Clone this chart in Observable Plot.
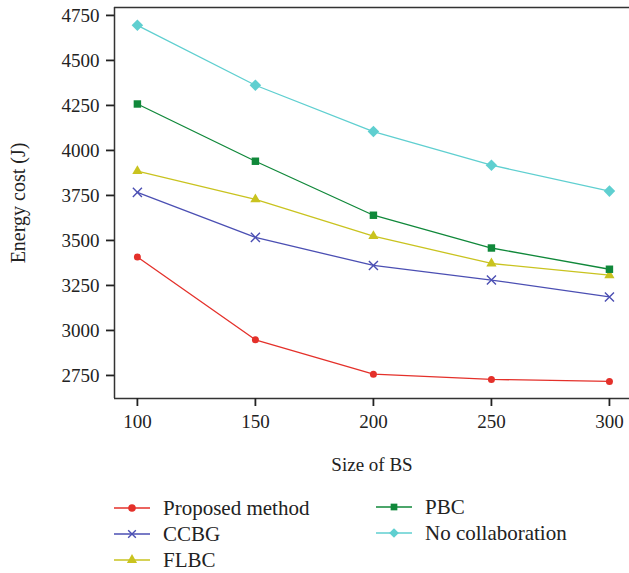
<!DOCTYPE html>
<html>
<head>
<meta charset="utf-8">
<script src="https://cdn.jsdelivr.net/npm/d3@7"></script>
<script src="https://cdn.jsdelivr.net/npm/@observablehq/plot@0.6"></script>
<style>
  html, body { margin: 0; padding: 0; background: #fff; overflow: hidden; }
  #wrap { position: relative; width: 629px; height: 573px; font-family: "Liberation Serif", "DejaVu Serif", serif; }
  #legend { position: absolute; left: 0; top: 0; width: 629px; height: 573px; pointer-events: none; }
  .item { position: absolute; display: flex; align-items: center; font-size: 21px; color: #222; height: 26px; white-space: nowrap; }
  .item svg { margin-right: 13px; }
</style>
</head>
<body>
<div id="wrap"><div id="chart"></div><div id="legend"></div></div>
<script>
const sizes = [100, 150, 200, 250, 300];
const proposed = [3408, 2948, 2757, 2728, 2717];
const ccbg = [3767, 3517, 3361, 3280, 3186];
const flbc = [3885, 3728, 3524, 3372, 3307];
const pbc = [4258, 3940, 3640, 3458, 3340];
const noCollab = [4695, 4362, 4105, 3918, 3774];
const yTicks = [2750, 3000, 3250, 3500, 3750, 4000, 4250, 4500, 4750];

const series = [
  {name: "Proposed method", values: proposed, color: "#e4302a", symbol: "circle", stroke: false},
  {name: "CCBG", values: ccbg, color: "#4b4fb3", symbol: "times", stroke: true},
  {name: "FLBC", values: flbc, color: "#c9c31f", symbol: "triangle", stroke: false},
  {name: "PBC", values: pbc, color: "#10883a", symbol: "square", stroke: false},
  {name: "No collaboration", values: noCollab, color: "#5fcfd0", symbol: "diamond2", stroke: false}
];

const data = series.flatMap(s => s.values.map((v, i) => ({series: s.name, x: sizes[i], y: v})));

const marks = [];
for (const s of series) {
  const d = data.filter(r => r.series === s.name);
  marks.push(Plot.line(d, {x: "x", y: "y", stroke: s.color, strokeWidth: 1.3}));
  if (s.stroke) {
    marks.push(Plot.dot(d, {x: "x", y: "y", symbol: s.symbol, stroke: s.color, strokeWidth: 1.4, r: 4.2}));
  } else {
    const r = s.symbol === "diamond2" ? 5.2 : s.symbol === "square" ? 4.2 : s.symbol === "triangle" ? 3.8 : 3.5;
    marks.push(Plot.dot(d, {x: "x", y: "y", symbol: s.symbol, fill: s.color, stroke: "none", r}));
  }
}

const fmt = d => String(d);
const chart = Plot.plot({
  width: 629,
  height: 480,
  marginLeft: 114,
  marginRight: 0,
  marginTop: 7,
  marginBottom: 82,
  style: {fontFamily: "'Liberation Serif', 'DejaVu Serif', serif", background: "#fff", color: "#222"},
  x: {domain: [90.3, 308.5]},
  y: {domain: [2622, 4794]},
  marks: [
    Plot.ruleX([90.3], {stroke: "#333", strokeWidth: 1.5}),
    Plot.ruleY([2622], {stroke: "#333", strokeWidth: 1.5}),
    Plot.ruleY([4794], {stroke: "#333", strokeWidth: 1.5}),
    Plot.axisX(sizes, {tickSize: 8, tickPadding: 8, fontSize: 19, strokeWidth: 1.8, stroke: "#222", fill: "#222", tickFormat: fmt,
      label: "Size of BS", labelAnchor: "center", labelArrow: "none", labelOffset: 72}),
    Plot.axisY(yTicks, {tickSize: 8, tickPadding: 7, fontSize: 19, strokeWidth: 1.8, stroke: "#222", fill: "#222", tickFormat: fmt,
      label: "Energy cost (J)", labelAnchor: "center", labelArrow: "none", labelOffset: 104}),
    ...marks
  ]
});
chart.querySelectorAll("g[aria-label='x-axis label'] text").forEach(t => t.setAttribute("font-size", 19));
chart.querySelectorAll("g[aria-label='y-axis label'] text").forEach(t => t.setAttribute("font-size", 20));
document.getElementById("chart").appendChild(chart);

// legend
const legend = document.getElementById("legend");
const positions = [
  {lineX: 114, y: 508}, {lineX: 114, y: 534}, {lineX: 114, y: 560},
  {lineX: 376, y: 507}, {lineX: 376, y: 533}
];
const symTypes = {circle: d3.symbolCircle, times: d3.symbolTimes, triangle: d3.symbolTriangle, square: d3.symbolSquare, diamond2: d3.symbolDiamond2};
series.forEach((s, i) => {
  const p = positions[i];
  const div = document.createElement("div");
  div.className = "item";
  div.style.left = p.lineX + "px";
  div.style.top = (p.y - 13) + "px";
  const sym = d3.symbol().type(symTypes[s.symbol]).size(s.symbol === "times" ? 40 : s.symbol === "diamond2" ? 60 : 45)();
  div.innerHTML = `<svg width="36" height="26"><line x1="0" x2="36" y1="13" y2="13" stroke="${s.color}" stroke-width="1.6"/>` +
    `<path transform="translate(18,13)" d="${sym}" ${s.stroke ? `fill="none" stroke="${s.color}" stroke-width="1.4"` : `fill="${s.color}"`}/></svg><span>${s.name}</span>`;
  legend.appendChild(div);
});
</script>
</body>
</html>
